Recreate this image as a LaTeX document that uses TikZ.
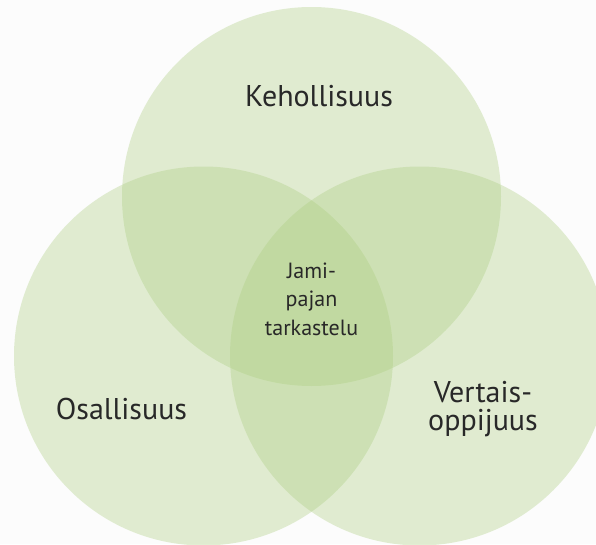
\documentclass[tikz,border=0pt]{standalone}
\usepackage{fontspec}
\setmainfont{PT Sans}
\definecolor{vihrea}{RGB}{172,206,128}
\definecolor{teksti}{RGB}{40,40,40}
\tikzset{
  piiri/.style={fill=vihrea,fill opacity=0.35},
  otsikko/.style={text=teksti,font=\fontsize{30}{28}\selectfont,align=center,inner sep=0pt,anchor=base},
  keski/.style={text=teksti,font=\fontsize{22}{28.5}\selectfont,align=center,inner sep=0pt,anchor=base}
}

\begin{document}
\begin{tikzpicture}[x=1pt,y=-1pt]
  % Tausta
  \clip (0,0) rectangle (596,544);
  \fill[white!99!black] (0,0) rectangle (596,544);
  % Ympyrat
  \coordinate (yla) at (311.5,196.5);
  \coordinate (vasen) at (203.5,356);
  \coordinate (oikea) at (419.5,356);
  \foreach \c in {yla,vasen,oikea}
    \fill[piiri] (\c) circle[radius=189.5];
  % Tekstit (base = viimeisen rivin perusviiva)
  \node[otsikko] (keho) at (319,106) {Kehollisuus};
  \node[otsikko] (osallisuus) at (121.5,419) {Osallisuus};
  \node[otsikko] (vertais) at (483,430) {Vertais-\\oppijuus};
  \node[keski] (jami) at (311.5,335) {Jami-\\pajan\\tarkastelu};
\end{tikzpicture}
\end{document}
